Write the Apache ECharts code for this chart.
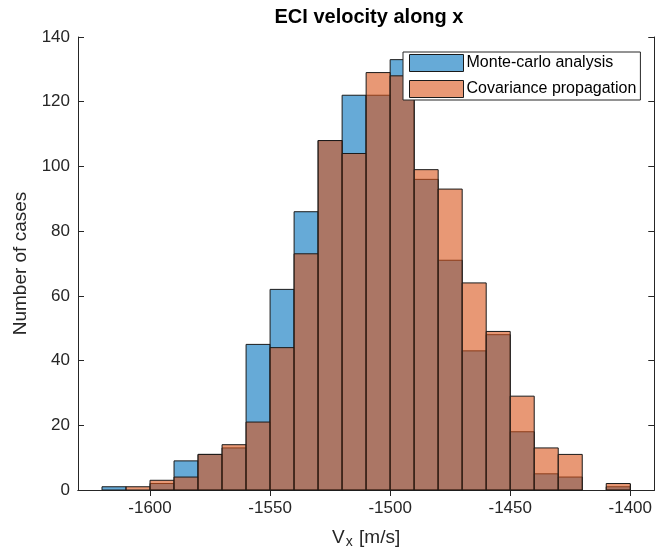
<!DOCTYPE html>
<html>
<head>
<meta charset="utf-8">
<script src="https://cdn.jsdelivr.net/npm/echarts@6/dist/echarts.min.js"></script>
<style>
html,body{margin:0;padding:0;background:#fff;}
#chart{width:655px;height:555px;}
</style>
</head>
<body>
<div id="chart"></div>
<script>
// Bin edges (m/s), bin width 10
const binEdges = [-1620,-1610,-1600,-1590,-1580,-1570,-1560,-1550,-1540,-1530,-1520,-1510,-1500,-1490,-1480,-1470,-1460,-1450,-1440,-1430,-1420,-1410,-1400];
// Counts per bin
const monteCarlo = [1,0,2,9,11,13,45,62,86,108,122,122,133,96,71,43,48,18,5,4,0,1];
const covariance = [0,1,3,4,11,14,21,44,73,108,104,129,128,99,93,64,49,29,13,11,0,2];
const xTicks = [-1600,-1550,-1500,-1450,-1400];
const seriesNames = ['Monte-carlo analysis','Covariance propagation'];

const FONT = '"Liberation Sans", Arial, Helvetica, sans-serif';
const AX = '#262626';
const blueFill = 'rgba(0,114,189,0.6)';
const orangeFill = 'rgba(217,83,25,0.6)';

function toData(counts){
  return counts.map((c,i)=>[binEdges[i], binEdges[i+1], c]);
}
function makeRender(fill){
  return function(params, api){
    const x0 = api.value(0), x1 = api.value(1), c = api.value(2);
    if (!c) return null;
    const p0 = api.coord([x0, c]);
    const p1 = api.coord([x1, 0]);
    return {
      type:'rect',
      shape:{x:p0[0], y:p0[1], width:p1[0]-p0[0], height:p1[1]-p0[1]},
      style:{fill:fill, stroke:'#1a1a1a', lineWidth:1}
    };
  };
}

const chart = echarts.init(document.getElementById('chart'), null, {renderer:'canvas'});
const axisCommon = {
  axisLine:{show:true, lineStyle:{color:AX, width:1}},
  splitLine:{show:false}
};
chart.setOption({
  animation:false,
  backgroundColor:'#fff',
  title:{
    text:'ECI velocity along x',
    left:364, top:2, textAlign:'center',
    textStyle:{fontFamily:FONT, fontSize:20, fontWeight:'bold', color:'#000'}
  },
  legend:{
    orient:'vertical',
    left:403, top:52,
    padding:[2,4,2,6],
    itemWidth:54, itemHeight:17, itemGap:8,
    borderColor:AX, borderWidth:1, backgroundColor:'#fff',
    icon:'rect',
    textStyle:{fontFamily:FONT, fontSize:16, color:'#000', padding:[0,0,0,-2]},
    data:[
      {name:seriesNames[0], itemStyle:{color:blueFill, borderColor:'#1a1a1a', borderWidth:1}},
      {name:seriesNames[1], itemStyle:{color:orangeFill, borderColor:'#1a1a1a', borderWidth:1}}
    ]
  },
  grid:{left:78, top:37, width:578, height:453, containLabel:false},
  xAxis:[
    Object.assign({
      type:'value', min:-1630, max:-1390, position:'bottom',
      name:'{v|V}{s|x}{v| [m/s]}', nameLocation:'middle', nameGap:38,
      nameTextStyle:{fontFamily:FONT, fontSize:19, color:AX,
        rich:{v:{fontFamily:FONT, fontSize:19, color:AX, padding:[0,0,9,0]},
              s:{fontFamily:FONT, fontSize:14, color:AX, padding:[0,1,0,1]}}},
      axisTick:{show:true, inside:true, length:6, customValues:xTicks, lineStyle:{color:AX}},
      axisLabel:{show:true, customValues:xTicks, margin:10, fontFamily:FONT, fontSize:17, color:AX,
        formatter:function(v){ return String(v); }}
    }, axisCommon),
    Object.assign({
      type:'value', min:-1630, max:-1390, position:'top',
      axisTick:{show:true, inside:true, length:6, customValues:xTicks, lineStyle:{color:AX}},
      axisLabel:{show:false}
    }, axisCommon)
  ],
  yAxis:[
    Object.assign({
      type:'value', min:0, max:140, interval:20, position:'left',
      name:'Number of cases', nameLocation:'middle', nameGap:40, nameRotate:90,
      nameTextStyle:{fontFamily:FONT, fontSize:19, color:AX},
      axisTick:{show:true, inside:true, length:6, lineStyle:{color:AX}},
      axisLabel:{show:true, margin:8, fontFamily:FONT, fontSize:17, color:AX}
    }, axisCommon),
    Object.assign({
      type:'value', min:0, max:140, interval:20, position:'right',
      axisTick:{show:true, inside:true, length:6, lineStyle:{color:AX}},
      axisLabel:{show:false}
    }, axisCommon)
  ],
  series:[
    {
      name:seriesNames[0], type:'custom', xAxisIndex:0, yAxisIndex:0,
      itemStyle:{color:blueFill, borderColor:'#1a1a1a', borderWidth:1},
      encode:{x:[0,1], y:2},
      renderItem:makeRender(blueFill),
      data:toData(monteCarlo), z:2
    },
    {
      name:seriesNames[1], type:'custom', xAxisIndex:0, yAxisIndex:0,
      itemStyle:{color:orangeFill, borderColor:'#1a1a1a', borderWidth:1},
      encode:{x:[0,1], y:2},
      renderItem:makeRender(orangeFill),
      data:toData(covariance), z:3
    }
  ]
});
</script>
</body>
</html>
